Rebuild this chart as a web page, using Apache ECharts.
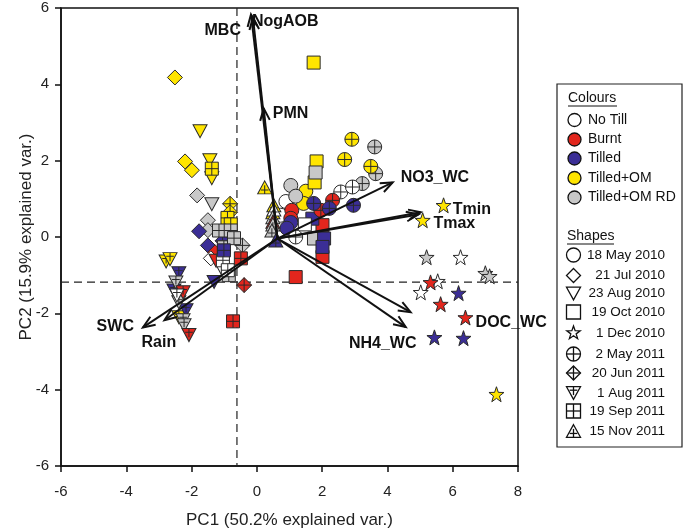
<!DOCTYPE html>
<html><head><meta charset="utf-8">
<script src="https://cdn.jsdelivr.net/npm/echarts@6/dist/echarts.min.js"></script>
<style>html,body{margin:0;padding:0;background:#fff}#c{width:685px;height:530px}</style>
</head><body><div id="c"></div>
<script>
// ---------------- DATA ----------------
const colourNames = ['No Till', 'Burnt', 'Tilled', 'Tilled+OM', 'Tilled+OM RD'];
const shapeNames = ['18 May 2010', '21 Jul 2010', '23 Aug 2010', '19 Oct 2010', '1 Dec 2010',
                    '2 May 2011', '20 Jun 2011', '1 Aug 2011', '19 Sep 2011', '15 Nov 2011'];
// each point: [PC1, PC2, colour index into colourNames]
const may2010 = [[0.89,0.93,0],[0.73,0.57,0],[1.07,0.70,1],[1.04,0.49,1],[1.04,0.38,2],[0.92,0.23,2],
                 [1.50,1.20,3],[1.43,0.88,3],[1.04,1.35,4],[1.19,1.07,4]];
const jul2010 = [[-2.51,4.18,3],[-2.20,1.98,3],[-1.99,1.75,3],[-1.83,1.09,4],[-1.50,0.44,4],[-1.50,0.18,4],
                 [-1.77,0.15,2],[-1.50,-0.22,2],[-1.28,-0.40,1],[-1.41,-0.56,0]];
const aug2010 = [[-1.74,2.77,3],[-1.44,2.01,3],[-1.38,1.54,3],[-1.38,0.86,4],[-1.31,-1.18,2],
                 [-1.10,-0.80,0],[-1.25,-0.62,1]];
const oct2010 = [[1.74,4.57,3],[1.83,1.98,3],[1.77,1.43,3],[1.80,1.69,4],[1.75,-0.04,4],
                 [2.01,0.31,1],[2.01,-0.52,1],[1.19,-1.05,1],[1.70,0.48,2],[2.06,-0.04,2],[2.01,-0.26,2],[1.47,0.33,0]];
const dec2010 = [[6.24,-0.53,0],[5.54,-1.16,0],[5.02,-1.45,0],[5.20,-0.53,4],[7.00,-0.95,4],[7.13,-1.03,4],
                 [5.32,-1.19,1],[5.63,-1.76,1],[6.39,-2.11,1],[6.18,-1.47,2],[5.44,-2.63,2],[6.33,-2.65,2],
                 [5.72,0.83,3],[5.08,0.44,3],[7.34,-4.12,3]];
const may2011 = [[2.91,2.56,3],[2.69,2.03,3],[3.61,2.36,4],[3.64,1.66,4],[3.49,1.85,3],[3.23,1.40,4],
                 [2.57,1.18,0],[2.93,1.31,0],[1.19,0.00,0],[2.32,0.96,1],[1.96,0.70,1],
                 [1.74,0.88,2],[2.22,0.75,2],[2.96,0.83,2]];
const jun2011 = [[-0.82,0.87,3],[-0.82,0.65,3],[-0.39,-1.26,1],[-0.44,-0.22,4],[-1.05,-0.10,2]];
const aug2011 = [[-2.78,-0.64,3],[-2.66,-0.58,3],[-2.39,-2.10,3],[-2.39,-0.95,2],[-2.54,-1.40,2],[-2.17,-1.92,2],
                 [-2.48,-1.19,4],[-2.39,-1.71,4],[-2.26,-2.18,4],[-2.23,-2.31,4],[-2.26,-1.45,1],[-2.08,-2.57,1],
                 [-2.45,-1.53,0]];
const sep2011 = [[-1.38,1.79,3],[-0.90,0.50,3],[-0.80,0.33,3],[-1.16,0.17,4],[-0.80,0.17,4],[-1.01,-0.27,4],
                 [-0.70,-0.03,4],[-0.86,-1.00,4],[-1.04,-0.61,0],[-0.89,-0.87,0],[-1.01,-0.35,2],
                 [-0.73,-2.21,1],[-0.49,-0.56,1]];
const nov2011 = [[0.24,1.30,3],[0.52,0.83,3],[0.49,0.65,3],[0.52,0.72,0],[0.49,0.52,4],[0.49,0.40,1],
                 [0.49,0.33,4],[0.46,0.17,4],[0.58,-0.09,2]];
const groups = [may2010, jul2010, aug2010, oct2010, dec2010, may2011, jun2011, aug2011, sep2011, nov2011];

// loadings (biplot arrows)
const loadingNames = ['MBC', 'NogAOB', 'PMN', 'NO3_WC', 'Tmin', 'Tmax', 'NH4_WC', 'DOC_WC', 'SWC', 'Rain'];
const loadingPC1 = [-0.18, -0.12, 0.21, 4.16, 5.02, 4.95, 4.56, 4.71, -3.49, -2.83];
const loadingPC2 = [5.83, 5.75, 3.37, 1.43, 0.65, 0.59, -2.36, -1.97, -2.37, -2.18];
const loadingOrigin = [0.63, -0.04];
const refLines = [-0.61, -1.18]; // dashed reference lines (PC1, PC2)

// ---------------- STYLE ----------------
const COLOURS = ['#ffffff', '#e2261d', '#3b2e96', '#ffe500', '#c8c8c8'];
const PLUS = ' M0,10 L20,10 M10,0 L10,20';
const PATHS = {
  circle: 'M10,0 A10,10 0 1,1 10,20 A10,10 0 1,1 10,0 Z',
  diamond: 'M10,0 L20,10 L10,20 L0,10 Z',
  triDown: 'M0,0 L20,0 L10,18 Z',
  square: 'M0,0 L20,0 L20,20 L0,20 Z',
  star: 'M10,0 L12.35,6.76 L19.51,6.91 L13.8,11.24 L15.88,18.09 L10,14 L4.12,18.09 L6.2,11.24 L0.49,6.91 L7.65,6.76 Z',
  circlePlus: 'M10,0 A10,10 0 1,1 10,20 A10,10 0 1,1 10,0 Z' + PLUS,
  diamondPlus: 'M10,0 L20,10 L10,20 L0,10 Z' + PLUS,
  triDownPlus: 'M0,0 L20,0 L10,18 Z M10,0 L10,12 M4.5,5 L15.5,5',
  squarePlus: 'M0,0 L20,0 L20,20 L0,20 Z' + PLUS,
  triUpPlus: 'M10,0 L20,18 L0,18 Z M10,6 L10,18 M4.5,12.5 L15.5,12.5'
};
// same geometry for the legend, in a 20x20 box
const GEOM = {
  circle: {circle: true, plus: []},
  diamond: {poly: [[10,0],[20,10],[10,20],[0,10]], plus: []},
  triDown: {poly: [[0,1],[20,1],[10,19]], plus: []},
  square: {poly: [[0,0],[20,0],[20,20],[0,20]], plus: []},
  star: {poly: [[10,0],[12.35,6.76],[19.51,6.91],[13.8,11.24],[15.88,18.09],[10,14],[4.12,18.09],[6.2,11.24],[0.49,6.91],[7.65,6.76]], plus: []},
  circlePlus: {circle: true, plus: [[0,10,20,10],[10,0,10,20]]},
  diamondPlus: {poly: [[10,0],[20,10],[10,20],[0,10]], plus: [[0,10,20,10],[10,0,10,20]]},
  triDownPlus: {poly: [[0,1],[20,1],[10,19]], plus: [[10,1,10,13],[4.5,6,15.5,6]]},
  squarePlus: {poly: [[0,0],[20,0],[20,20],[0,20]], plus: [[0,10,20,10],[10,0,10,20]]},
  triUpPlus: {poly: [[10,1],[20,19],[0,19]], plus: [[10,7,10,19],[4.5,13.5,15.5,13.5]]}
};
const SHAPE_KEYS = ['circle','diamond','triDown','square','star','circlePlus','diamondPlus','triDownPlus','squarePlus','triUpPlus'];
const SHAPE_SIZES = [14, 15, [14,13], 13, 15, 14, 15, [14,13], 13, [14,13]];
const LABEL_POS = [
  {dx:-10, dy:16, align:'right'}, {dx:-1, dy:4, align:'left'}, {dx:9, dy:5, align:'left'},
  {dx:8, dy:-5, align:'left'}, {dx:32, dy:-3, align:'left'}, {dx:15, dy:9, align:'left'},
  {dx:-23, dy:17, align:'center'}, {dx:65, dy:10, align:'left'}, {dx:-9, dy:-1, align:'right'},
  {dx:-23, dy:22, align:'left'}
];
const FONT = 'Arial, "Liberation Sans", sans-serif';

const chart = echarts.init(document.getElementById('c'), null, {renderer:'canvas'});

const scatterSeries = groups.map((arr, gi) => ({
  type: 'scatter', name: shapeNames[gi], silent: true, z: 3,
  symbol: 'path://' + PATHS[SHAPE_KEYS[gi]],
  symbolSize: SHAPE_SIZES[gi],
  itemStyle: {borderColor: '#2a2a2a', borderWidth: 1, opacity: 1},
  data: arr.map(d => ({value: [d[0], d[1]], itemStyle: {color: COLOURS[d[2]]}}))
}));

const refSeries = {
  type: 'custom', silent: true, z: 1,
  data: [[refLines[0], refLines[1]]],
  renderItem(params, api) {
    const cs = params.coordSys;
    const p = api.coord([api.value(0), api.value(1)]);
    const st = {stroke: '#222', lineWidth: 1.2, lineDash: [8, 5]};
    return {type: 'group', children: [
      {type: 'line', shape: {x1: p[0], y1: cs.y, x2: p[0], y2: cs.y + cs.height}, style: st},
      {type: 'line', shape: {x1: cs.x, y1: p[1], x2: cs.x + cs.width, y2: p[1]}, style: st}
    ]};
  }
};

const arrowSeries = {
  type: 'custom', silent: true, z: 10,
  data: loadingNames.map((n, i) => [loadingOrigin[0], loadingOrigin[1], loadingPC1[i], loadingPC2[i]]),
  encode: {x: [0, 2], y: [1, 3]},
  renderItem(params, api) {
    const i = params.dataIndex;
    const p0 = api.coord([api.value(0), api.value(1)]);
    const p1 = api.coord([api.value(2), api.value(3)]);
    const ang = Math.atan2(p1[1] - p0[1], p1[0] - p0[0]);
    const L = 13, A = 0.38;
    const h1 = [p1[0] - L * Math.cos(ang - A), p1[1] - L * Math.sin(ang - A)];
    const h2 = [p1[0] - L * Math.cos(ang + A), p1[1] - L * Math.sin(ang + A)];
    const lp = LABEL_POS[i];
    return {type: 'group', children: [
      {type: 'line', shape: {x1: p0[0], y1: p0[1], x2: p1[0], y2: p1[1]}, style: {stroke: '#111', lineWidth: 2}},
      {type: 'polyline', shape: {points: [h1, p1, h2]}, style: {stroke: '#111', lineWidth: 2, fill: null}},
      {type: 'text', x: p1[0] + lp.dx, y: p1[1] + lp.dy,
       style: {text: loadingNames[i], fontSize: 16, fontWeight: 'bold', fontFamily: FONT, fill: '#111',
               align: lp.align, verticalAlign: 'middle'}}
    ]};
  }
};

// ---------------- LEGEND (graphic) ----------------
const legendEls = [];
legendEls.push({type: 'rect', shape: {x: 557, y: 84, width: 125, height: 363},
  style: {fill: '#fff', stroke: '#222', lineWidth: 1.2}, z: 100});
function txt(t, x, y, align, size) {
  legendEls.push({type: 'text', x: x, y: y, z: 101,
    style: {text: t, fontSize: size, fontFamily: FONT, fill: '#111', align: align, verticalAlign: 'middle'}});
}
function sym(key, cx, cy, s, fill) {
  const g = GEOM[key];
  const k = s / 20;
  const tx = (p) => [cx + (p[0] - 10) * k, cy + (p[1] - 10) * k];
  const st = {fill: fill, stroke: '#111', lineWidth: 1.3};
  if (g.circle) {
    legendEls.push({type: 'circle', z: 101, shape: {cx: cx, cy: cy, r: s / 2}, style: st});
  } else {
    legendEls.push({type: 'polygon', z: 101, shape: {points: g.poly.map(tx)}, style: st});
  }
  g.plus.forEach(l => {
    const a = tx([l[0], l[1]]), b = tx([l[2], l[3]]);
    legendEls.push({type: 'line', z: 102, shape: {x1: a[0], y1: a[1], x2: b[0], y2: b[1]}, style: {stroke: '#111', lineWidth: 1.3}});
  });
}
txt('Colours', 568, 98, 'left', 14);
legendEls.push({type: 'line', z: 101, shape: {x1: 568, y1: 106, x2: 617, y2: 106}, style: {stroke: '#111', lineWidth: 1}});
const colourRowsY = [120, 139.5, 158.5, 178, 197.5];
colourNames.forEach((n, i) => {
  sym('circle', 574.5, colourRowsY[i], 13, COLOURS[i]);
  txt(n, 588, colourRowsY[i], 'left', 14);
});
txt('Shapes', 567, 236, 'left', 14);
legendEls.push({type: 'line', z: 101, shape: {x1: 567, y1: 244, x2: 614, y2: 244}, style: {stroke: '#111', lineWidth: 1}});
const shapeRowsY = [255, 275.5, 293.5, 312, 333, 354, 373, 393, 411, 431];
shapeNames.forEach((n, i) => {
  sym(SHAPE_KEYS[i], 573.5, shapeRowsY[i], 14, '#fff');
  txt(n, 665, shapeRowsY[i], 'right', 13.5);
});

const axisCommon = {
  type: 'value',
  axisLine: {show: true, onZero: false, lineStyle: {color: '#111', width: 1.5}},
  axisTick: {show: true, length: 6, lineStyle: {color: '#111', width: 1.5}},
  axisLabel: {fontSize: 15, color: '#222', fontFamily: FONT},
  splitLine: {show: false},
  nameLocation: 'middle',
  nameMoveOverlap: false,
  nameTextStyle: {fontSize: 17, color: '#222', fontFamily: FONT}
};

chart.setOption({
  animation: false,
  backgroundColor: '#fff',
  grid: {left: 61, right: 167, top: 8, bottom: 64, show: true, borderColor: '#111', borderWidth: 1.5,
         containLabel: false, outerBoundsMode: 'none'},
  xAxis: Object.assign({}, axisCommon, {min: -6, max: 8, interval: 2, name: 'PC1 (50.2% explained var.)', nameGap: 46,
    axisLabel: Object.assign({}, axisCommon.axisLabel, {margin: 18})}),
  yAxis: Object.assign({}, axisCommon, {min: -6, max: 6, interval: 2, name: 'PC2 (15.9% explained var.)', nameGap: 26,
    axisLabel: Object.assign({}, axisCommon.axisLabel, {margin: 12})}),
  series: [refSeries].concat(scatterSeries).concat([arrowSeries]),
  graphic: {elements: legendEls}
});
</script>
</body></html>
